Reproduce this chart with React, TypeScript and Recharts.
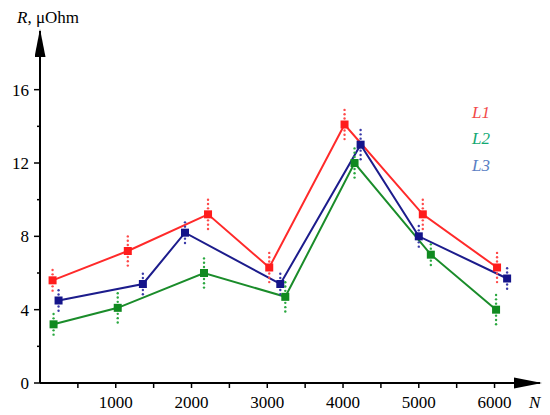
import React from "react";
import { LineChart, Line, XAxis, YAxis, Customized } from "recharts";

// cycle count N, resistance R (µOhm), spread of the measurements
const l1N = [166, 1159, 2218, 3026, 4020, 5053, 6033];
const l1R = [5.6, 7.2, 9.2, 6.3, 14.1, 9.2, 6.3];
const l1Err = [0.55, 0.8, 0.85, 0.75, 0.8, 0.85, 0.78];

const l2N = [179, 1026, 2165, 3238, 4152, 5159, 6020];
const l2R = [3.2, 4.1, 6.0, 4.7, 12.0, 7.0, 4.0];
const l2Err = [0.55, 0.78, 0.78, 0.72, 0.78, 0.65, 0.78];

const l3N = [245, 1358, 1914, 3172, 4232, 5000, 6166];
const l3R = [4.5, 5.4, 8.2, 5.4, 13.0, 8.0, 5.7];
const l3Err = [0.5, 0.7, 0.7, 0.62, 0.72, 0.7, 0.7];

const xTicks = [500, 1000, 1500, 2000, 2500, 3000, 3500, 4000, 4500, 5000, 5500, 6000];
const yTicks = [0, 2, 4, 6, 8, 10, 12, 14, 16];

const toRows = (n: number[], r: number[], e: number[]) => n.map((v, i) => ({ n: v, r: r[i], err: e[i] }));

const l1 = toRows(l1N, l1R, l1Err);
const l2 = toRows(l2N, l2R, l2Err);
const l3 = toRows(l3N, l3R, l3Err);

const FONT = "Liberation Serif, serif";
const Y_MAX = 19.2;
const PLOT_H = 415 - 31 - 7 - 25;
const PX_PER_UNIT = PLOT_H / Y_MAX;

// square marker with the dotted measurement spread above and below it
const Square = (color: string, dotColor: string, size: number) => (props: any) => {
  const { cx, cy, payload, index } = props;
  if (cx == null || cy == null) return null;
  const span = payload.err * PX_PER_UNIT;
  const offs: number[] = [];
  for (let p = 6; p <= span + 1.5; p += 4.3) offs.push(p);
  return (
    <g key={index}>
      {offs.map((o) => (
        <g key={o}>
          <circle cx={cx} cy={cy - o} r={1.2} fill={dotColor} />
          <circle cx={cx} cy={cy + o} r={1.2} fill={dotColor} />
        </g>
      ))}
      <rect x={cx - size / 2} y={cy - size / 2} width={size} height={size} fill={color} />
    </g>
  );
};

const textStyle = { fontFamily: FONT, fontSize: 17 };

const YTick = (props: any) => {
  const { x, y, payload } = props;
  const major = payload.value % 4 === 0;
  return (
    <g>
      <line x1={x - (major ? 6 : 3)} x2={x} y1={y} y2={y} stroke="#000" strokeWidth={1.5} />
      {major && (
        <text x={x - 11} y={y} dy="0.35em" textAnchor="end" style={textStyle} fill="#000">
          {payload.value}
        </text>
      )}
    </g>
  );
};

const XTick = (props: any) => {
  const { x, y, payload } = props;
  const major = payload.value % 1000 === 0;
  return (
    <g>
      <line x1={x} x2={x} y1={y} y2={y + 5} stroke="#000" strokeWidth={1.5} />
      {major && (
        <text x={x} y={y + 25} textAnchor="middle" style={textStyle} fill="#000">
          {payload.value}
        </text>
      )}
    </g>
  );
};

const Decor = () => (
  <g style={textStyle}>
    <defs>
      <marker id="arrowY" markerUnits="userSpaceOnUse" markerWidth={28} markerHeight={11} refX={26} refY={5.5} orient="auto-start-reverse" viewBox="0 0 28 11">
        <path d="M0,0 L28,5.5 L0,11 Z" fill="#000" />
      </marker>
      <marker id="arrowX" markerUnits="userSpaceOnUse" markerWidth={28} markerHeight={12} refX={26} refY={5.5} orient="auto" viewBox="0 0 28 11">
        <path d="M0,0 L28,5.5 L0,11 Z" fill="#000" />
      </marker>
    </defs>
    <text x={17} y={23} fill="#000" style={textStyle}>
      <tspan fontStyle="italic">R</tspan>, μOhm
    </text>
    <text x={529} y={408} fill="#000" style={{ ...textStyle, fontStyle: "italic" }}>N</text>
    <text x={472} y={118} fill="#f24a4a" style={{ ...textStyle, fontStyle: "italic" }}>L1</text>
    <text x={472} y={144} fill="#12a872" style={{ ...textStyle, fontStyle: "italic" }}>L2</text>
    <text x={472} y={171} fill="#5a80c4" style={{ ...textStyle, fontStyle: "italic" }}>L3</text>
  </g>
);

export default function App() {
  return (
    <div style={{ position: "absolute", left: 0, top: 0, width: 550, height: 415, background: "#fff" }}>
      <LineChart width={550} height={415} margin={{ top: 31, right: 10, bottom: 7, left: 10 }}>
        <Customized component={Decor} />
        <XAxis
          type="number"
          dataKey="n"
          domain={[0, 6600]}
          ticks={xTicks}
          allowDataOverflow
          height={25}
          tickSize={0}
          tickMargin={0}
          tickLine={false}
          tick={<XTick />}
          axisLine={{ stroke: "#000", strokeWidth: 2, markerEnd: "url(#arrowX)" }}
        />
        <YAxis
          type="number"
          dataKey="r"
          domain={[0, Y_MAX]}
          ticks={yTicks}
          allowDataOverflow
          width={30}
          tickSize={0}
          tickMargin={0}
          tickLine={false}
          tick={<YTick />}
          axisLine={{ stroke: "#000", strokeWidth: 2, markerStart: "url(#arrowY)" }}
        />
        <Line data={l1} dataKey="r" stroke="#ff2a2a" strokeWidth={2} dot={Square("#ff1c1c", "#ff4a4a", 8)} activeDot={false} isAnimationActive={false} />
        <Line data={l3} dataKey="r" stroke="#1c1c8c" strokeWidth={2} dot={Square("#14148a", "#3a3aa8", 8)} activeDot={false} isAnimationActive={false} />
        <Line data={l2} dataKey="r" stroke="#1a8c2a" strokeWidth={2} dot={Square("#108a20", "#2aa840", 8)} activeDot={false} isAnimationActive={false} />
      </LineChart>
    </div>
  );
}
